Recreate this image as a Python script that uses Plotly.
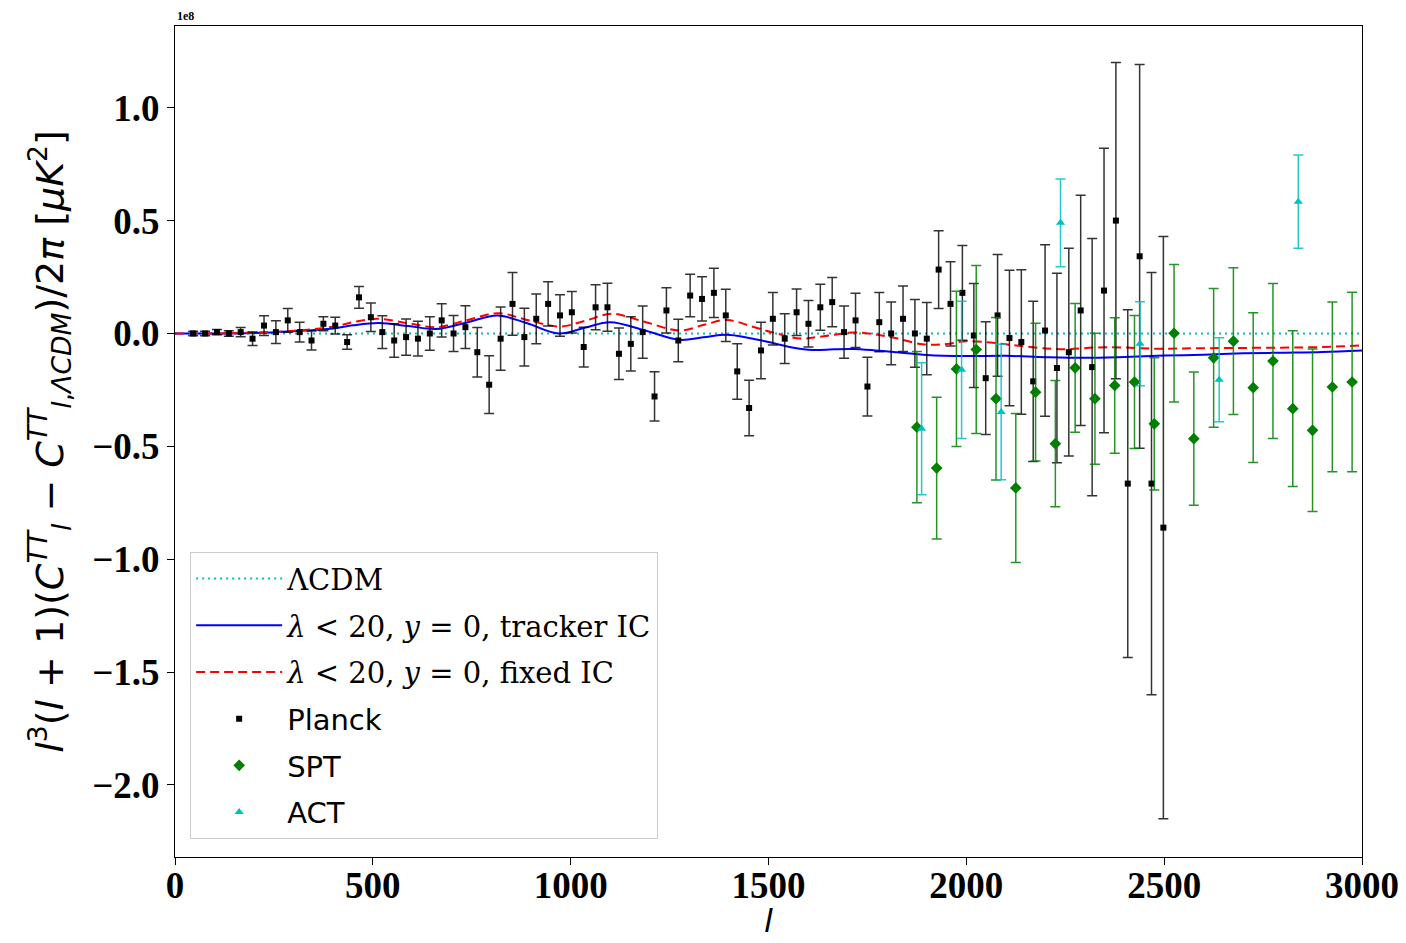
import plotly.graph_objects as go

# ---- Planck binned residuals (units of 1e8 muK^2) ----
planck_l = [46, 76, 106, 136, 166, 196, 225, 255, 285, 315, 345, 375, 405, 435, 465,
            495, 524, 554, 584, 614, 644, 674, 704, 734, 764, 794, 823, 853, 883, 913,
            943, 973, 1003, 1033, 1063, 1093, 1122, 1152, 1182, 1212, 1242, 1272, 1302,
            1332, 1362, 1392, 1421, 1451, 1481, 1511, 1541, 1571, 1601, 1631, 1661, 1691,
            1720, 1750, 1780, 1810, 1840, 1870, 1900, 1930, 1960, 1990, 2019, 2049, 2079,
            2109, 2139, 2169, 2199, 2229, 2259, 2289, 2318, 2348, 2378, 2408, 2438, 2468,
            2498]
planck_v = [0.0, 0.0, 0.006, 0.0, 0.006, -0.023, 0.035, 0.006, 0.058, 0.006, -0.031,
            0.043, 0.035, -0.038, 0.16, 0.072, 0.006, -0.031, -0.016, -0.023, 0.0, 0.058,
            0.0, 0.028, -0.083, -0.227, -0.023, 0.131, -0.016, 0.065, 0.131, 0.08, 0.094,
            -0.06, 0.116, 0.116, -0.09, -0.046, 0.006, -0.279, 0.102, -0.031, 0.168, 0.153,
            0.18, 0.08, -0.168, -0.33, -0.075, 0.065, -0.023, 0.094, 0.043, 0.116, 0.139,
            0.006, 0.058, -0.235, 0.05, 0.0, 0.065, 0.0, -0.023, 0.283, 0.131, 0.18, -0.009,
            -0.198, 0.08, -0.02, -0.038, -0.212, 0.013, -0.153, -0.083, 0.102, -0.149, 0.19,
            0.5, -0.665, 0.342, -0.665, -0.86]
planck_e = [0.01, 0.01, 0.012, 0.012, 0.02, 0.03, 0.044, 0.05, 0.053, 0.044, 0.042,
            0.031, 0.037, 0.032, 0.048, 0.063, 0.073, 0.074, 0.08, 0.077, 0.074, 0.074,
            0.08, 0.095, 0.11, 0.128, 0.14, 0.139, 0.128, 0.11, 0.098, 0.092, 0.092, 0.088,
            0.1, 0.106, 0.114, 0.12, 0.116, 0.109, 0.1, 0.094, 0.094, 0.098, 0.109, 0.116,
            0.123, 0.123, 0.125, 0.116, 0.11, 0.103, 0.103, 0.102, 0.109, 0.116, 0.12, 0.13,
            0.131, 0.139, 0.145, 0.15, 0.16, 0.172, 0.187, 0.21, 0.23, 0.25, 0.27, 0.3, 0.32,
            0.355, 0.38, 0.42, 0.46, 0.51, 0.57, 0.63, 0.7, 0.77, 0.85, 0.935, 1.29]

# ---- SPT ----
spt_l = [1875, 1925, 1975, 2025, 2075, 2125, 2175, 2225, 2275, 2325, 2375, 2425,
         2475, 2525, 2575, 2625, 2675, 2725, 2775, 2825, 2875, 2925, 2975]
spt_v = [-0.415, -0.596, -0.157, -0.071, -0.289, -0.684, -0.26, -0.488, -0.152, -0.289,
         -0.23, -0.215, -0.4, 0.001, -0.466, -0.108, -0.034, -0.24, -0.122, -0.333,
         -0.429, -0.237, -0.215]
spt_e = [0.335, 0.314, 0.344, 0.372, 0.36, 0.33, 0.305, 0.28, 0.285, 0.29, 0.3, 0.295,
         0.293, 0.304, 0.295, 0.307, 0.325, 0.332, 0.343, 0.345, 0.36, 0.376, 0.398]

# ---- ACT ----
act_l = [1887, 1988, 2088, 2238, 2439, 2639, 2839]
act_v = [-0.422, -0.161, -0.348, 0.49, -0.046, -0.205, 0.584]
act_e = [0.292, 0.304, 0.3, 0.194, 0.186, 0.186, 0.207]

# ---- model curves relative to LCDM ----
lcdm_l = [0, 3000]
lcdm_v = [0.0, 0.0]

tracker_l = [0, 100, 200, 300, 400, 450, 515, 590, 660, 740, 815, 890, 970, 1035,
             1100, 1190, 1275, 1335, 1395, 1450, 1500, 1560, 1612, 1665, 1713, 1770,
             1825, 1900, 2000, 2100, 2200, 2300, 2400, 2500, 2600, 2700, 2800, 2900, 3000]
tracker_v = [0.0, 0.0, 0.002, 0.01, 0.022, 0.036, 0.046, 0.033, 0.02, 0.05, 0.08, 0.045,
             0.0, 0.025, 0.05, 0.012, -0.028, -0.017, -0.006, -0.02, -0.038, -0.062, -0.073,
             -0.07, -0.069, -0.075, -0.083, -0.095, -0.1, -0.099, -0.105, -0.108, -0.104,
             -0.098, -0.094, -0.088, -0.085, -0.082, -0.075]

fixed_l = [0, 100, 200, 300, 400, 450, 510, 590, 660, 740, 817, 890, 973, 1040, 1104,
           1190, 1276, 1340, 1395, 1460, 1520, 1580, 1640, 1714, 1770, 1820, 1890, 1950,
           2000, 2060, 2100, 2200, 2250, 2330, 2400, 2480, 2550, 2700, 2900, 3000]
fixed_v = [0.0, 0.0, 0.004, 0.012, 0.03, 0.05, 0.065, 0.045, 0.028, 0.06, 0.09, 0.06,
           0.031, 0.058, 0.087, 0.05, 0.013, 0.04, 0.06, 0.03, 0.0, -0.022, -0.012, 0.004,
           -0.004, -0.02, -0.048, -0.047, -0.034, -0.04, -0.048, -0.066, -0.07, -0.062,
           -0.062, -0.068, -0.066, -0.064, -0.06, -0.053]

SERIF = "Liberation Serif"
SANS = "DejaVu Sans"
MATH = "DejaVu Serif"

fig = go.Figure()

fig.add_trace(go.Scatter(
    x=lcdm_l, y=lcdm_v, mode="lines", legendgroup="a",
    name=f"<span style='font-family:{MATH}'>ΛCDM</span>",
    line=dict(color="#00bfbf", width=2, dash="2px,4px")))
fig.add_trace(go.Scatter(
    x=tracker_l, y=tracker_v, mode="lines", legendgroup="b",
    name=f"<span style='font-family:{MATH}'><i>λ</i> &lt; 20, <i>y</i> = 0, tracker IC</span>",
    line=dict(color="#0000ff", width=2, shape="spline", smoothing=1.0)))
fig.add_trace(go.Scatter(
    x=fixed_l, y=fixed_v, mode="lines", legendgroup="c",
    name=f"<span style='font-family:{MATH}'><i>λ</i> &lt; 20, <i>y</i> = 0, fixed IC</span>",
    line=dict(color="#ff0000", width=2, dash="9px,5px", shape="spline", smoothing=1.0)))

fig.add_trace(go.Scatter(
    x=planck_l, y=planck_v, mode="markers", name="Planck", legendgroup="d",
    marker=dict(symbol="square", size=6, color="black"),
    error_y=dict(type="data", array=planck_e, visible=True, color="rgba(0,0,0,0.8)",
                 thickness=1.5, width=5)))
fig.add_trace(go.Scatter(
    x=spt_l, y=spt_v, mode="markers", name="SPT", legendgroup="e",
    marker=dict(symbol="diamond", size=9, color="#008000"),
    error_y=dict(type="data", array=spt_e, visible=True, color="rgba(0,128,0,0.85)",
                 thickness=1.5, width=5)))
fig.add_trace(go.Scatter(
    x=act_l, y=act_v, mode="markers", name="ACT", legendgroup="f",
    marker=dict(symbol="triangle-up", size=8, color="#00bfbf"),
    error_y=dict(type="data", array=act_e, visible=True, color="rgba(0,191,191,0.85)",
                 thickness=1.5, width=5)))

axis_common = dict(
    showline=True, linecolor="black", linewidth=1.2, mirror=True,
    ticks="outside", ticklen=7, tickwidth=1.2, tickcolor="black",
    showgrid=False, zeroline=False,
    tickfont=dict(family=SERIF, size=37, color="black", weight="bold"),
)

fig.update_layout(
    width=1406, height=943,
    margin=dict(l=175, r=44, t=26, b=86),
    plot_bgcolor="white", paper_bgcolor="white",
    xaxis=dict(range=[0, 3000], tickvals=[0, 500, 1000, 1500, 2000, 2500, 3000],
               ticklabelstandoff=-12, automargin=False, **axis_common),
    yaxis=dict(range=[-2.319, 1.362], tickvals=[-2.0, -1.5, -1.0, -0.5, 0.0, 0.5, 1.0],
               tickformat=".1f",
               title=dict(
                   text=("<i>l</i><sup>3</sup>(<i>l</i> + 1)(<i>C</i><sup><i>TT</i></sup>"
                         "<sub><i>l</i></sub> − <i>C</i><sup><i>TT</i></sup>"
                         "<sub><i>l</i>,<i>ΛCDM</i></sub>)/2<i>π</i> [<i>μK</i><sup>2</sup>]"),
                   font=dict(family=SANS, size=38, color="black"), standoff=16),
               automargin=False, **axis_common),
    legend=dict(
        x=0.0126, y=0.367, xanchor="left", yanchor="top",
        bgcolor="rgba(255,255,255,0.8)", bordercolor="#cccccc", borderwidth=1.2,
        font=dict(family=SANS, size=29, color="black"),
        traceorder="grouped", tracegroupgap=6, itemwidth=86,
    ),
    annotations=[
        dict(text="1e8", xref="paper", yref="paper", x=0, y=1, xanchor="left",
             yanchor="bottom", showarrow=False, yshift=1,
             font=dict(family=SERIF, size=12, color="black", weight="bold")),
        # x-axis label, resting on the bottom edge of the page
        dict(text="<i>l</i>", xref="paper", yref="paper", x=0.5, y=0, xanchor="center",
             yanchor="bottom", showarrow=False, yshift=-85,
             font=dict(family=SANS, size=32, color="black")),
    ],
)

fig.write_html("out.html")
